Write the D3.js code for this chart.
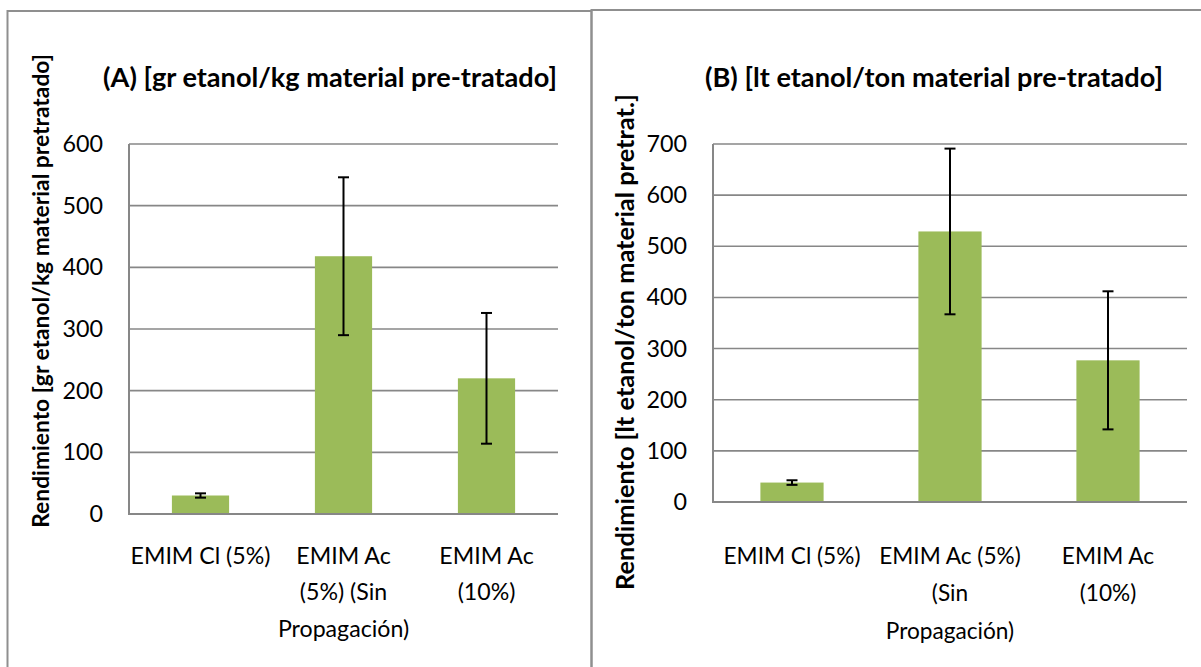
<!DOCTYPE html>
<html>
<head>
<meta charset="utf-8">
<script src="https://cdn.jsdelivr.net/npm/d3@7"></script>
<style>
  html, body { margin: 0; padding: 0; background: #fff; }
  svg { display: block; }
  text { font-family: Lato, "Open Sans", sans-serif; fill: #000; }
</style>
</head>
<body>
<svg id="chart" width="1201" height="667"></svg>
<script>
// ---------- DATA ----------
const categories = ["EMIM Cl (5%)", "EMIM Ac (5%) (Sin Propagación)", "EMIM Ac (10%)"];
const labelLinesA = [["EMIM Cl (5%)"], ["EMIM Ac", "(5%) (Sin", "Propagación)"], ["EMIM Ac", "(10%)"]];
const labelLinesB = [["EMIM Cl (5%)"], ["EMIM Ac (5%)", "(Sin", "Propagación)"], ["EMIM Ac", "(10%)"]];
const valuesA = [30, 418, 220];
const errorsA = [3.5, 128, 106];
const valuesB = [38, 529, 277];
const errorsB = [4.5, 162, 135];
const ticksA = [0, 100, 200, 300, 400, 500, 600];
const ticksB = [0, 100, 200, 300, 400, 500, 600, 700];
const titleA = "(A) [gr etanol/kg material pre-tratado]";
const titleB = "(B) [lt etanol/ton material pre-tratado]";
const yTitleA = "Rendimiento [gr etanol/kg material pretratado]";
const yTitleB = "Rendimiento [lt etanol/ton material pretrat.]";

// ---------- STYLE ----------
const barColor = "#9BBB59";
const gridColor = "#878787";
const frameColor = "#8f8f8f";

const svg = d3.select("#chart");

// frames
svg.append("rect").attr("x", 7.5).attr("y", 11).attr("width", 584).attr("height", 700)
  .attr("fill", "none").attr("stroke", frameColor).attr("stroke-width", 2);
svg.append("rect").attr("x", 591.5).attr("y", 10).attr("width", 640).attr("height", 700)
  .attr("fill", "none").attr("stroke", frameColor).attr("stroke-width", 2);

function fit(sel, target) {
  const w = sel.node().getComputedTextLength();
  const fs = parseFloat(sel.attr("font-size"));
  const nfs = fs * target / w;
  sel.attr("font-size", nfs);
  return nfs;
}

function drawPanel(cfg) {
  const g = svg.append("g");
  const x = d3.scaleBand().domain(categories).range([cfg.x0, cfg.x1])
    .paddingInner(0.6).paddingOuter(0.3);
  const y = d3.scaleLinear().domain([0, cfg.max]).range([cfg.yBottom, cfg.yTop]);

  // gridlines
  g.append("g").selectAll("line").data(cfg.ticks.filter(t => t > 0)).join("line")
    .attr("x1", cfg.x0).attr("x2", cfg.x1)
    .attr("y1", d => y(d)).attr("y2", d => y(d))
    .attr("stroke", gridColor).attr("stroke-width", 1.6);

  // y axis via d3
  const yAxis = d3.axisLeft(y).tickValues(cfg.ticks).tickSize(0).tickPadding(cfg.x0 - cfg.tickRight);
  const ya = g.append("g").attr("transform", `translate(${cfg.x0},0)`).call(yAxis);
  ya.select(".domain").remove();
  ya.selectAll("text").attr("font-size", 23.3).attr("font-family", "Lato").attr("fill", "#000");

  // bars
  g.append("g").selectAll("rect").data(cfg.values).join("rect")
    .attr("x", (d, i) => x(categories[i]))
    .attr("width", x.bandwidth())
    .attr("y", d => y(d))
    .attr("height", d => y(0) - y(d))
    .attr("fill", barColor);

  // error bars
  const eb = g.append("g").attr("stroke", "#000").attr("stroke-width", 2);
  cfg.values.forEach((v, i) => {
    const cx = x(categories[i]) + x.bandwidth() / 2;
    const e = cfg.errors[i];
    eb.append("line").attr("x1", cx).attr("x2", cx).attr("y1", y(v + e)).attr("y2", y(v - e));
    eb.append("line").attr("x1", cx - 5.5).attr("x2", cx + 5.5).attr("y1", y(v + e)).attr("y2", y(v + e));
    eb.append("line").attr("x1", cx - 5.5).attr("x2", cx + 5.5).attr("y1", y(v - e)).attr("y2", y(v - e));
  });

  // axes lines
  g.append("line").attr("x1", cfg.x0).attr("x2", cfg.x0).attr("y1", y(cfg.max)).attr("y2", y(0) + 1)
    .attr("stroke", gridColor).attr("stroke-width", 2);
  g.append("line").attr("x1", cfg.x0 - 1).attr("x2", cfg.x1).attr("y1", y(0)).attr("y2", y(0))
    .attr("stroke", gridColor).attr("stroke-width", 2.2);

  // category labels
  const probe = g.append("text").attr("font-size", 21).text(cfg.labels[0][0]);
  const lfs = fit(probe, cfg.labelW);
  probe.remove();
  cfg.labels.forEach((lines, i) => {
    const cx = x(categories[i]) + x.bandwidth() / 2;
    lines.forEach((ln, j) => {
      g.append("text").attr("x", cx).attr("y", cfg.labelY + j * cfg.labelDy)
        .attr("text-anchor", "middle").attr("font-size", lfs).text(ln);
    });
  });

  // title
  const t = g.append("text").attr("x", cfg.titleX).attr("y", cfg.titleY)
    .attr("text-anchor", "middle").attr("font-weight", "bold").attr("font-size", 22).text(cfg.title);
  fit(t, cfg.titleW);

  // y title
  const yt = g.append("text")
    .attr("transform", `translate(${cfg.yTitleX},${cfg.yTitleCy}) rotate(-90)`)
    .attr("text-anchor", "middle").attr("dy", "0.35em")
    .attr("font-weight", "bold").attr("font-size", 20).text(cfg.yTitle);
  fit(yt, cfg.yTitleW);
}

drawPanel({
  x0: 129, x1: 558, yTop: 144, yBottom: 514, max: 600, ticks: ticksA,
  values: valuesA, errors: errorsA, labels: labelLinesA,
  tickRight: 103, labelY: 563.5, labelDy: 36.5, labelW: 140,
  title: titleA, titleX: 330, titleY: 87, titleW: 454,
  yTitle: yTitleA, yTitleX: 41, yTitleCy: 291, yTitleW: 474
});
drawPanel({
  x0: 713, x1: 1187, yTop: 144, yBottom: 502, max: 700, ticks: ticksB,
  values: valuesB, errors: errorsB, labels: labelLinesB,
  tickRight: 687, labelY: 563.5, labelDy: 37.6, labelW: 137,
  title: titleB, titleX: 934, titleY: 87, titleW: 458,
  yTitle: yTitleB, yTitleX: 625, yTitleCy: 342, yTitleW: 496
});
</script>
</body>
</html>
